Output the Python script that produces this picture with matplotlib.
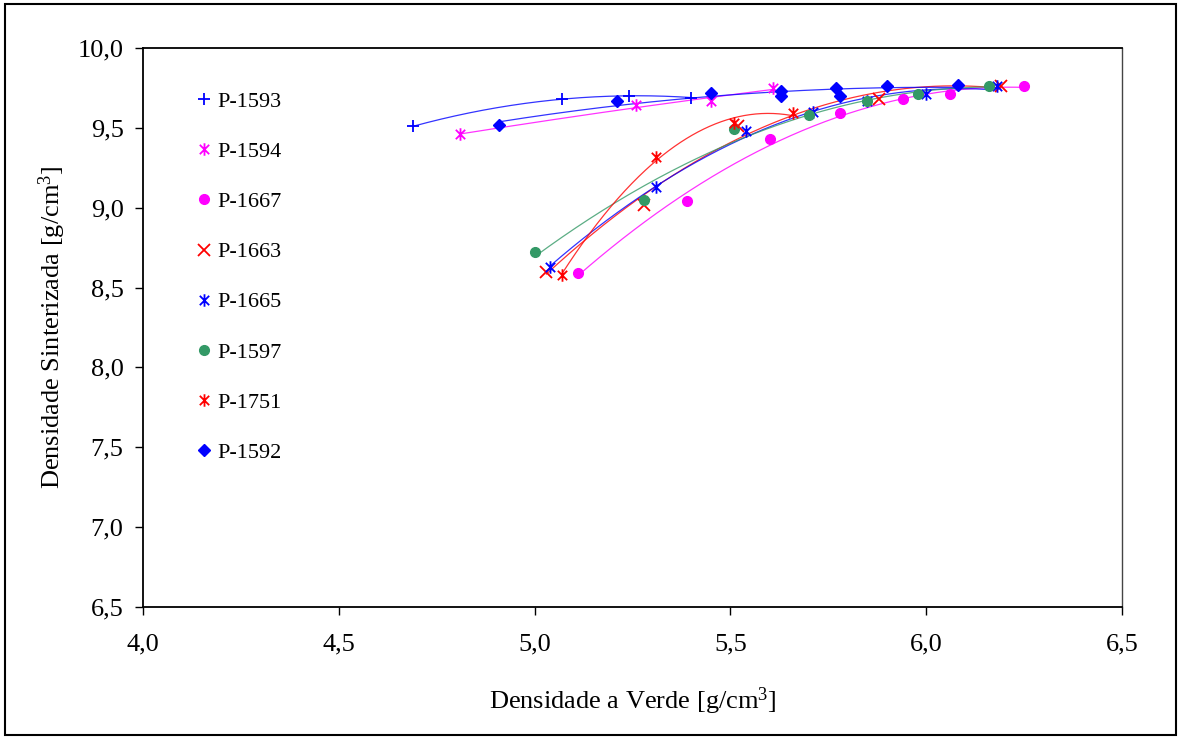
import numpy as np
import matplotlib
matplotlib.use("Agg")
import matplotlib.pyplot as plt
from matplotlib.path import Path
from matplotlib.patches import Rectangle
from matplotlib.ticker import FixedLocator, FuncFormatter

plt.rcParams['font.family'] = ['Liberation Serif', 'DejaVu Serif']
plt.rcParams['mathtext.fontset'] = 'custom'
plt.rcParams['mathtext.rm'] = 'Liberation Serif'
plt.rcParams['mathtext.it'] = 'Liberation Serif:italic'

# Green density (x) and sintered density (y) for each powder lot
p1593_x = [4.69, 5.07, 5.24, 5.40]
p1593_y = [9.51, 9.68, 9.70, 9.69]

p1594_x = [4.81, 5.26, 5.45, 5.61]
p1594_y = [9.46, 9.64, 9.67, 9.75]

p1667_x = [5.11, 5.39, 5.60, 5.78, 5.94, 6.06, 6.25]
p1667_y = [8.59, 9.04, 9.43, 9.59, 9.68, 9.71, 9.76]

p1663_x = [5.03, 5.28, 5.52, 5.88, 6.19]
p1663_y = [8.60, 9.02, 9.51, 9.68, 9.76]

p1665_x = [5.04, 5.31, 5.54, 5.71, 5.85, 6.00, 6.18]
p1665_y = [8.63, 9.13, 9.48, 9.60, 9.67, 9.71, 9.76]

p1597_x = [5.00, 5.28, 5.51, 5.70, 5.85, 5.98, 6.16]
p1597_y = [8.72, 9.05, 9.49, 9.58, 9.67, 9.71, 9.76]

p1751_x = [5.07, 5.31, 5.51, 5.66]
p1751_y = [8.58, 9.32, 9.53, 9.59]

p1592_x = [4.91, 5.21, 5.45, 5.63, 5.63, 5.77, 5.78, 5.90, 6.08]
p1592_y = [9.52, 9.67, 9.72, 9.73, 9.70, 9.75, 9.70, 9.76, 9.77]

labels = ["P-1593", "P-1594", "P-1667", "P-1663", "P-1665", "P-1597", "P-1751", "P-1592"]

x_ticks = [4.0, 4.5, 5.0, 5.5, 6.0, 6.5]
y_ticks = [6.5, 7.0, 7.5, 8.0, 8.5, 9.0, 9.5, 10.0]

# Six-armed star: vertical bar plus a diagonal cross
star = Path([(0, -1), (0, 1), (-0.75, -0.75), (0.75, 0.75), (-0.75, 0.75), (0.75, -0.75)],
            [Path.MOVETO, Path.LINETO, Path.MOVETO, Path.LINETO, Path.MOVETO, Path.LINETO])

BLUE = "#0000FF"
MAGENTA = "#FF00FF"
RED = "#FF0000"
GREEN = "#339966"

series = [
    (p1593_x, p1593_y, BLUE, "+", 9, 1.3),
    (p1594_x, p1594_y, MAGENTA, star, 9, 1.3),
    (p1667_x, p1667_y, MAGENTA, "o", 7, 1.0),
    (p1663_x, p1663_y, RED, "x", 8, 1.3),
    (p1665_x, p1665_y, BLUE, star, 9, 1.3),
    (p1597_x, p1597_y, GREEN, "o", 7, 1.0),
    (p1751_x, p1751_y, RED, star, 9, 1.3),
    (p1592_x, p1592_y, BLUE, "D", 6, 1.0),
]

fig = plt.figure(figsize=(11.8, 7.38), dpi=100)
ax = fig.add_axes([143 / 1180, 1 - 607 / 738, (1122 - 143) / 1180, (607 - 48) / 738])

for (xs, ys, color, marker, ms, mew), label in zip(series, labels):
    xs = np.asarray(xs)
    ys = np.asarray(ys)
    # second-order polynomial trend line over the measured range
    coef = np.polyfit(xs, ys, 2)
    xx = np.linspace(xs.min(), xs.max(), 200)
    ax.plot(xx, np.polyval(coef, xx), color=color, lw=0.9, alpha=0.8, zorder=2)
    ax.plot(xs, ys, linestyle="none", marker=marker, color=color, ms=ms, mew=mew,
            label=label, zorder=3)

ax.set_xlim(4.0, 6.5)
ax.set_ylim(6.5, 10.0)
ax.xaxis.set_major_locator(FixedLocator(x_ticks))
ax.yaxis.set_major_locator(FixedLocator(y_ticks))
comma = FuncFormatter(lambda v, pos: f"{v:.1f}".replace(".", ","))
ax.xaxis.set_major_formatter(comma)
ax.yaxis.set_major_formatter(comma)
ax.tick_params(axis="both", direction="out", length=6, width=1, labelsize=19, colors="black")
ax.tick_params(axis="x", pad=13)
ax.tick_params(axis="y", pad=8)
for side in ["left", "bottom", "top"]:
    ax.spines[side].set_linewidth(1.3)
    ax.spines[side].set_color("black")
ax.spines["right"].set_linewidth(1.0)
ax.spines["right"].set_color("#444444")

ax.set_xlabel(r"Densidade a Verde [g/cm$^{3}$]", fontsize=19, labelpad=22)
ax.set_ylabel(r"Densidade Sinterizada [g/cm$^{3}$]", fontsize=19, labelpad=7)

leg = ax.legend(loc="upper left", bbox_to_anchor=(0.036, 0.954), frameon=False,
                fontsize=16, labelspacing=1.33, handlelength=0.7, handletextpad=0.25,
                borderpad=0.3)

fig.patches.append(Rectangle((5 / 1180, 3 / 738), 1171 / 1180, 731 / 738,
                             transform=fig.transFigure, fill=False,
                             edgecolor="black", lw=1.5))

fig.savefig("out.png", dpi=100)
